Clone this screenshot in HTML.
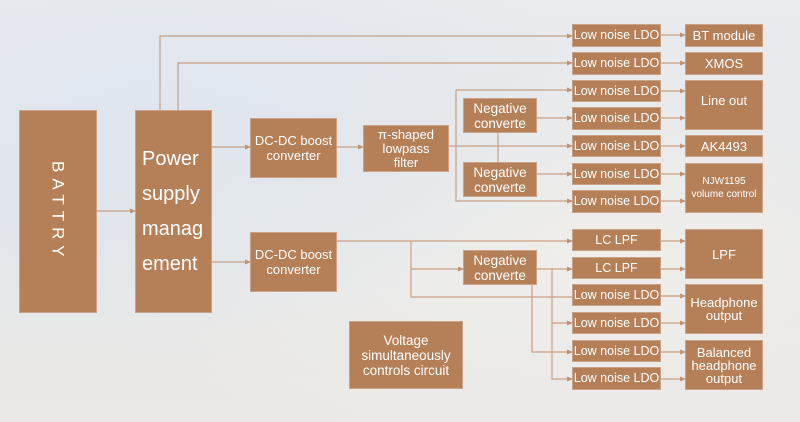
<!DOCTYPE html>
<html><head><meta charset="utf-8"><style>
html,body{margin:0;padding:0}
body{width:800px;height:422px;position:relative;overflow:hidden;font-family:"Liberation Sans","DejaVu Sans",sans-serif;
background:radial-gradient(ellipse at 20% 30%,#dfe6ee 0%,rgba(0,0,0,0) 50%),radial-gradient(ellipse at 75% 60%,#f0eeea 0%,rgba(0,0,0,0) 60%),linear-gradient(180deg,#e9ebee 0%,#e3e6ea 50%,#ebe9e6 100%);}
.b{position:absolute;background:#b57f58;color:#fff;display:flex;align-items:center;justify-content:center;text-align:center;font-size:12.5px;line-height:13px;box-sizing:border-box;border:1px solid #c9a287;white-space:nowrap}
svg{position:absolute;left:0;top:0}
</style></head><body>
<svg width="800" height="422">
<defs><marker id="a" markerWidth="6" markerHeight="6" refX="5" refY="3" orient="auto" markerUnits="userSpaceOnUse"><path d="M0,0.5 L6,3 L0,5.5z" fill="#c09273"/></marker></defs>
<g stroke="#c9a084" stroke-width="1.2" fill="none">
<path d="M96,211 H135" marker-end="url(#a)"/>
<path d="M160,110 V36 H572" marker-end="url(#a)"/>
<path d="M178,110 V63 H572" marker-end="url(#a)"/>
<path d="M211,147 H250" marker-end="url(#a)"/>
<path d="M211,262 H250" marker-end="url(#a)"/>
<path d="M337,147 H363" marker-end="url(#a)"/>
<path d="M449,146 H572" marker-end="url(#a)"/>
<path d="M572,90 H456 V201 H572" />
<path d="M565,90 H572" marker-end="url(#a)"/>
<path d="M565,201 H572" marker-end="url(#a)"/>
<path d="M536,118 H572" marker-end="url(#a)"/>
<path d="M536,174 H572" marker-end="url(#a)"/>
<path d="M498,132 V162"/>
<path d="M660,35 H685" marker-end="url(#a)"/>
<path d="M660,63 H685" marker-end="url(#a)"/>
<path d="M660,91 H685" marker-end="url(#a)"/>
<path d="M660,118 H685" marker-end="url(#a)"/>
<path d="M660,146 H685" marker-end="url(#a)"/>
<path d="M660,174 H685" marker-end="url(#a)"/>
<path d="M660,201 H685" marker-end="url(#a)"/>
<path d="M337,241 H572" marker-end="url(#a)"/>
<path d="M411,241 V297 H572"/>
<path d="M411,269 H463" marker-end="url(#a)"/>
<path d="M536,269 H572" marker-end="url(#a)"/>
<path d="M552,269 V379 H572" marker-end="url(#a)"/>
<path d="M552,323 H572" marker-end="url(#a)"/>
<path d="M532,285 V352 H572" marker-end="url(#a)"/>
<path d="M660,241 H685" marker-end="url(#a)"/>
<path d="M660,269 H685" marker-end="url(#a)"/>
<path d="M660,296 H685" marker-end="url(#a)"/>
<path d="M660,323 H685" marker-end="url(#a)"/>
<path d="M660,352 H685" marker-end="url(#a)"/>
<path d="M660,379 H685" marker-end="url(#a)"/>
</g></svg>
<div class="b" style="left:19px;top:110px;width:78px;height:203px;"><span style="writing-mode:vertical-rl;font-size:17px;letter-spacing:6px">BATTRY</span></div>
<div class="b" style="left:135px;top:110px;width:77px;height:203px;font-size:20px;line-height:35px;text-align:left;justify-content:flex-start;padding-left:6px">Power<br>supply<br>manag<br>ement</div>
<div class="b" style="left:250px;top:118px;width:87px;height:60px;font-size:13px;line-height:15px">DC-DC boost<br>converter</div>
<div class="b" style="left:250px;top:232px;width:87px;height:60px;font-size:13px;line-height:15px">DC-DC boost<br>converter</div>
<div class="b" style="left:363px;top:125px;width:86px;height:47px;font-size:13px;line-height:14px">π-shaped<br>lowpass<br>filter</div>
<div class="b" style="left:463px;top:98px;width:74px;height:35px;font-size:13.5px;line-height:15px">Negative<br>converte</div>
<div class="b" style="left:463px;top:162px;width:74px;height:35px;font-size:13.5px;line-height:15px">Negative<br>converte</div>
<div class="b" style="left:463px;top:250px;width:74px;height:35px;font-size:13.5px;line-height:15px">Negative<br>converte</div>
<div class="b" style="left:349px;top:321px;width:114px;height:68px;font-size:13.5px;line-height:15px">Voltage<br>simultaneously<br>controls circuit</div>
<div class="b" style="left:572px;top:24px;width:89px;height:23px">Low noise LDO</div>
<div class="b" style="left:572px;top:52px;width:89px;height:23px">Low noise LDO</div>
<div class="b" style="left:572px;top:80px;width:89px;height:22px">Low noise LDO</div>
<div class="b" style="left:572px;top:107px;width:89px;height:23px">Low noise LDO</div>
<div class="b" style="left:572px;top:135px;width:89px;height:22px">Low noise LDO</div>
<div class="b" style="left:572px;top:163px;width:89px;height:22px">Low noise LDO</div>
<div class="b" style="left:572px;top:190px;width:89px;height:23px">Low noise LDO</div>
<div class="b" style="left:572px;top:229px;width:89px;height:22px">LC LPF</div>
<div class="b" style="left:572px;top:257px;width:89px;height:22px">LC LPF</div>
<div class="b" style="left:572px;top:284px;width:89px;height:22px">Low noise LDO</div>
<div class="b" style="left:572px;top:312px;width:89px;height:22px">Low noise LDO</div>
<div class="b" style="left:572px;top:340px;width:89px;height:22px">Low noise LDO</div>
<div class="b" style="left:572px;top:367px;width:89px;height:23px">Low noise LDO</div>
<div class="b" style="left:685px;top:24px;width:78px;height:23px;font-size:13px">BT module</div>
<div class="b" style="left:685px;top:52px;width:78px;height:23px;font-size:13px">XMOS</div>
<div class="b" style="left:685px;top:80px;width:78px;height:50px;align-items:flex-start;padding-top:13px;font-size:13px">Line out</div>
<div class="b" style="left:685px;top:135px;width:78px;height:22px;font-size:13px">AK4493</div>
<div class="b" style="left:685px;top:163px;width:78px;height:50px;font-size:10px">NJW1195<br>volume control</div>
<div class="b" style="left:685px;top:229px;width:78px;height:50px;font-size:13px">LPF</div>
<div class="b" style="left:685px;top:284px;width:78px;height:50px;font-size:13px">Headphone<br>output</div>
<div class="b" style="left:685px;top:340px;width:78px;height:50px;font-size:13px">Balanced<br>headphone<br>output</div>
</body></html>
